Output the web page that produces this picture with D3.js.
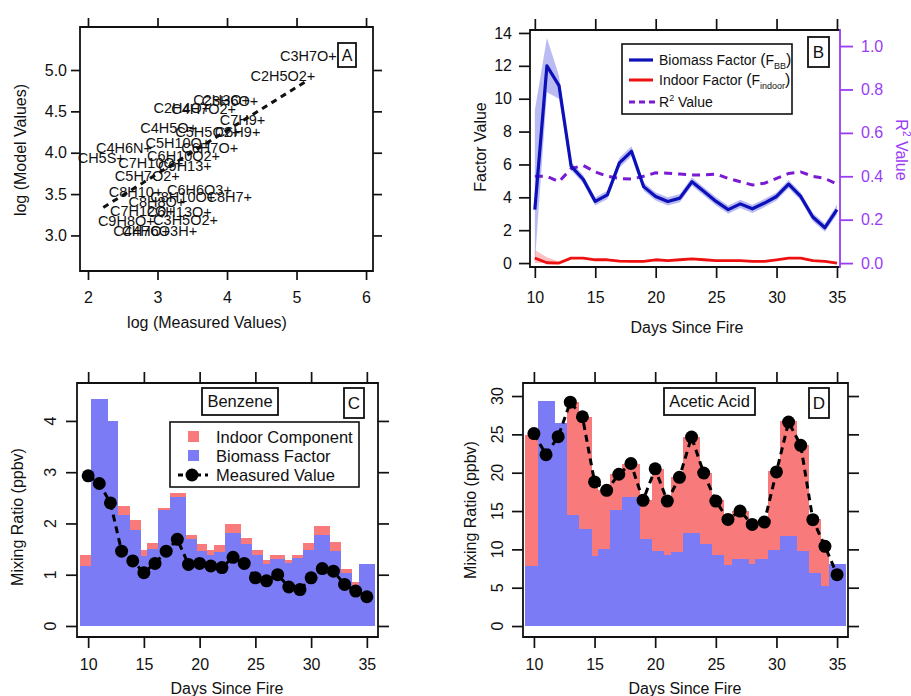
<!DOCTYPE html>
<html><head><meta charset="utf-8">
<script src="https://cdn.jsdelivr.net/npm/d3@7"></script>
<style>body{margin:0;background:#fff} svg{display:block}</style>
</head><body><svg id="c" width="911" height="696"></svg>
<script>
// ---------- Panel A data ----------
const labelsA = ["C3H7O+","C2H5O2+","C3H6O+","C2H3O+","C4H7O2+","C2H4O+","C7H9+","C4H5O+","C5H5O2+","C6H9+",
  "C6H7O+","C5H10O+","C4H6N+","CH5S+","C6H10O2+","C7H10O+","C9H13+","C5H7O2+","C8H10+","C6H6O3+",
  "C8H7+","C8H10O+","C8H8O+","C7H12O+","C6H13O+","C9H8O+","C3H5O2+","C4H7O+","C4H6O3H+"];
const measA = [5.58,5.27,4.45,4.33,4.13,3.76,4.55,3.57,4.19,4.48,
  4.16,3.76,2.92,2.53,3.90,3.37,3.78,3.32,3.07,4.07,
  4.36,3.83,3.40,3.25,3.78,2.96,3.87,3.18,3.57];
const modelA = [5.17,4.93,4.63,4.64,4.53,4.54,4.40,4.30,4.25,4.25,
  4.06,4.12,4.06,3.94,3.96,3.88,3.84,3.72,3.53,3.55,
  3.47,3.46,3.40,3.30,3.29,3.17,3.19,3.06,3.06];
const fitRangeA = [2.22, 5.15];
const fitSlopeA = 0.5225, fitInterceptA = 2.179;
const xTicksA = [2,3,4,5,6];
const yTicksA = [3.0,3.5,4.0,4.5,5.0];

// ---------- Panel B data ----------
const daysB = [10,11,12,13,14,15,16,17,18,19,20,21,22,23,24,25,26,27,28,29,30,31,32,33,34,35];
const fbb = [3.25,12.0,10.8,5.9,5.1,3.75,4.15,6.1,6.8,4.65,4.05,3.75,3.95,4.95,4.35,3.75,3.25,3.6,3.3,3.65,4.05,4.8,4.05,2.8,2.15,3.25];
const fbbLow = [0.0,10.4,10.0,5.65,4.85,3.5,3.9,5.8,6.5,4.4,3.8,3.5,3.7,4.7,4.1,3.5,3.0,3.35,3.05,3.4,3.8,4.55,3.8,2.55,1.9,2.95];
const fbbHigh = [9.3,13.7,11.4,6.15,5.35,4.0,4.4,6.4,7.1,4.9,4.3,4.0,4.2,5.2,4.6,4.0,3.5,3.85,3.55,3.9,4.3,5.05,4.3,3.05,2.4,3.55];
const findoor = [0.3,0.02,0.0,0.3,0.3,0.2,0.2,0.12,0.1,0.1,0.2,0.15,0.2,0.25,0.2,0.15,0.15,0.15,0.1,0.1,0.2,0.3,0.3,0.15,0.1,0.0];
const findoorLow = [0.0,0.0,0.0,0.25,0.25,0.15,0.15,0.07,0.05,0.05,0.15,0.1,0.15,0.2,0.15,0.1,0.1,0.1,0.05,0.05,0.15,0.25,0.25,0.1,0.05,0.0];
const findoorHigh = [0.8,0.35,0.1,0.35,0.35,0.25,0.25,0.17,0.15,0.15,0.25,0.2,0.25,0.3,0.25,0.2,0.2,0.2,0.15,0.15,0.25,0.35,0.35,0.2,0.15,0.05];
const r2 = [0.40,0.40,0.375,0.435,0.45,0.42,0.40,0.39,0.387,0.40,0.416,0.414,0.41,0.406,0.406,0.41,0.39,0.375,0.36,0.368,0.39,0.413,0.42,0.40,0.39,0.364];
const xTicksDays = [10,15,20,25,30,35];
const yTicksB = [0,2,4,6,8,10,12,14];
const y2TicksB = [0.0,0.2,0.4,0.6,0.8,1.0];

// ---------- Panels C & D data ----------
const binEdges = [9.3,10.3,11.75,12.7,13.75,14.75,15.3,16.3,17.3,18.75,19.75,20.7,21.3,22.3,23.7,24.7,25.7,26.3,27.7,28.25,29.3,30.3,31.7,32.7,33.7,34.3,35.72];
const daysMeas = [10,11,12,13,14,15,16,17,18,19,20,21,22,23,24,25,26,27,28,29,30,31,32,33,34,35];
const benzeneBiomass = [1.17,4.42,3.99,2.16,1.88,1.37,1.51,2.26,2.52,1.69,1.46,1.39,1.45,1.82,1.6,1.39,1.2,1.3,1.22,1.32,1.49,1.77,1.47,1.04,0.79,1.21];
const benzeneIndoor = [0.22,0,0,0.19,0.19,0.12,0.10,0.05,0.07,0.08,0.14,0.09,0.13,0.17,0.11,0.09,0.08,0.08,0.06,0.06,0.13,0.18,0.17,0.08,0.07,0];
const benzeneMeasured = [2.93,2.78,2.40,1.46,1.27,1.04,1.22,1.46,1.69,1.2,1.22,1.17,1.14,1.34,1.22,0.94,0.88,1.0,0.76,0.71,0.94,1.12,1.07,0.81,0.68,0.57];
const aceticBiomass = [7.78,29.4,26.5,14.5,12.6,9.13,10.1,15.1,16.8,11.3,9.74,9.3,9.65,12.2,10.65,9.3,8.0,8.7,8.13,8.8,9.96,11.8,9.78,6.9,5.17,8.04];
const aceticIndoor = [17.2,0,0,14.7,14.7,9.5,7.7,4.7,4.4,5.1,10.8,6.9,9.75,12.5,9.3,7.1,5.8,6.3,5.2,4.8,10.2,14.9,13.8,7.0,5.2,0];
const aceticMeasured = [25.1,22.35,24.7,29.2,27.3,18.8,17.7,19.8,21.2,16.4,20.5,16.3,19.4,24.65,19.96,16.3,13.9,15.0,13.26,13.56,20.1,26.6,23.57,13.87,10.4,6.7];
const yTicksC = [0,1,2,3,4];
const yTicksD = [0,5,10,15,20,25,30];

// ---------- drawing ----------
const FONT = '"Liberation Sans", Arial, Helvetica, sans-serif';
const svg = d3.select("#c");
svg.append("rect").attr("width",911).attr("height",696).attr("fill","#fff");
const BLUEBAR = "#7b7bf6", REDBAR = "#f87a7a";
const PURPLE = "#9a3cf5", PURPLE_LINE = "#7a1ad2";

function ticks4(g, x, y, cfg){
  const [x0,x1] = x.range(), [y0,y1] = y.range();
  const tl = cfg.tl;
  const b = g.append("g").attr("transform",`translate(0,${y0})`)
    .call(d3.axisBottom(x).tickValues(cfg.xt).tickSize(tl).tickPadding(cfg.xpad).tickFormat(cfg.xf));
  g.append("g").attr("transform",`translate(0,${y1})`)
    .call(d3.axisTop(x).tickValues(cfg.xt).tickSize(tl).tickFormat(""));
  g.append("g").attr("transform",`translate(${x0},0)`)
    .call(d3.axisLeft(y).tickValues(cfg.yt).tickSize(tl).tickPadding(cfg.ypad).tickFormat(cfg.rotX!=null ? "" : cfg.yf));
  if(!cfg.noRight){
    g.append("g").attr("transform",`translate(${x1},0)`)
      .call(d3.axisRight(y).tickValues(cfg.yt).tickSize(tl).tickFormat(""));
  }
  g.selectAll(".domain").remove();
  g.selectAll(".tick line").attr("stroke","#111").attr("stroke-width",1.7);
  g.selectAll(".tick text").attr("font-family",FONT).attr("font-size",16).attr("fill","#111");
  if(cfg.rotX!=null){
    g.selectAll(null).data(cfg.yt).enter().append("text")
      .attr("transform",d=>`translate(${cfg.rotX},${y(d)}) rotate(-90)`)
      .attr("text-anchor","middle").attr("dy","0.35em")
      .attr("font-family",FONT).attr("font-size",16).attr("fill","#111")
      .text(cfg.yf);
  }
}
function frame(g, x, y, rightColor){
  const [x0,x1] = x.range(), [y0,y1] = y.range();
  g.append("path").attr("d",`M${x1},${y1}H${x0}V${y0}H${x1}`).attr("fill","none").attr("stroke","#111").attr("stroke-width",1.8);
  g.append("line").attr("x1",x1).attr("x2",x1).attr("y1",y1-0.9).attr("y2",y0+0.9)
    .attr("stroke",rightColor||"#111").attr("stroke-width",1.8);
}
function label(g, txt, cx, cy, rot, size, color){
  g.append("text").attr("transform",`translate(${cx},${cy}) rotate(${rot||0})`)
    .attr("text-anchor","middle").attr("dy","0.35em")
    .attr("font-family",FONT).attr("font-size",size||16).attr("fill",color||"#111").text(txt);
}
function boxText(g, txt, x0, y0, x1, y1, size){
  g.append("rect").attr("x",x0).attr("y",y0).attr("width",x1-x0).attr("height",y1-y0)
    .attr("fill","#fff").attr("stroke","#111").attr("stroke-width",1.8);
  label(g, txt, (x0+x1)/2, (y0+y1)/2, 0, size||16);
}

// ===== Panel A =====
(function(){
  const g = svg.append("g");
  const x = d3.scaleLinear().domain([1.885,6.1]).range([80,373]);
  const y = d3.scaleLinear().domain([2.57,5.52]).range([271,27]);
  ticks4(g,x,y,{xt:xTicksA,yt:yTicksA,tl:9,xpad:12,ypad:4,xf:d3.format("d"),yf:d3.format(".1f")});
  g.selectAll(null).data(labelsA).enter().append("text")
    .attr("x",(d,i)=>x(measA[i])).attr("y",(d,i)=>y(modelA[i])).attr("dy","0.35em")
    .attr("text-anchor","end").attr("font-family",FONT).attr("font-size",14.5).attr("fill","#111")
    .text(d=>d);
  const fit = d3.line().x(d=>x(d)).y(d=>y(fitInterceptA+fitSlopeA*d));
  g.append("path").attr("d",fit(fitRangeA)).attr("fill","none").attr("stroke","#111")
    .attr("stroke-width",3).attr("stroke-dasharray","6,5");
  frame(g,x,y);
  boxText(g,"A",338,43,356,67,16);
  label(g,"log (Model Values)",20,150,-90,16);
  label(g,"log (Measured Values)",207,322,0,16);
})();

// ===== Panel B =====
(function(){
  const g = svg.append("g");
  const x = d3.scaleLinear().domain([9.6,35.25]).range([530,840]);
  const y = d3.scaleLinear().domain([-0.24,14.18]).range([267,30]);
  const y2 = d3.scaleLinear().domain([-0.018,1.074]).range([267,30]);
  ticks4(g,x,y,{xt:xTicksDays,yt:yTicksB,tl:11,xpad:14,ypad:7,xf:d3.format("d"),yf:d3.format("d"),noRight:true});
  const ra = g.append("g").attr("transform","translate(840,0)")
    .call(d3.axisRight(y2).tickValues(y2TicksB).tickSize(13).tickPadding(8).tickFormat(d3.format(".1f")));
  ra.select(".domain").remove();
  ra.selectAll(".tick line").attr("stroke",PURPLE).attr("stroke-width",1.8);
  ra.selectAll(".tick text").attr("font-family",FONT).attr("font-size",16).attr("fill",PURPLE);

  const band = (lo,hi)=>d3.area().x((d,i)=>x(daysB[i])).y0((d,i)=>y(lo[i])).y1((d,i)=>y(hi[i]));
  const line = v=>d3.line().x((d,i)=>x(daysB[i])).y((d,i)=>y(v[i]));
  g.append("path").attr("d",band(fbbLow,fbbHigh)(daysB)).attr("fill","rgba(105,105,230,0.45)");
  g.append("path").attr("d",band(findoorLow,findoorHigh)(daysB)).attr("fill","rgba(245,120,120,0.45)");
  g.append("path").attr("d",d3.line().x((d,i)=>x(daysB[i])).y((d,i)=>y2(r2[i]))(daysB))
    .attr("fill","none").attr("stroke",PURPLE_LINE).attr("stroke-width",3).attr("stroke-dasharray","8,6");
  g.append("path").attr("d",line(fbb)(daysB)).attr("fill","none").attr("stroke","#0c10b8").attr("stroke-width",3.2).attr("stroke-linejoin","round");
  g.append("path").attr("d",line(findoor)(daysB)).attr("fill","none").attr("stroke","#ee1111").attr("stroke-width",2.8).attr("stroke-linejoin","round");

  frame(g,x,y,PURPLE);
  // legend
  g.append("rect").attr("x",622).attr("y",44).attr("width",170).attr("height",70)
    .attr("fill","#fff").attr("stroke","#111").attr("stroke-width",1.6);
  const rows = [60,80,102];
  g.append("line").attr("x1",629).attr("x2",653).attr("y1",rows[0]).attr("y2",rows[0]).attr("stroke","#0c10b8").attr("stroke-width",3.2);
  g.append("line").attr("x1",629).attr("x2",653).attr("y1",rows[1]).attr("y2",rows[1]).attr("stroke","#ee1111").attr("stroke-width",3);
  g.append("line").attr("x1",629).attr("x2",655).attr("y1",rows[2]).attr("y2",rows[2]).attr("stroke",PURPLE_LINE).attr("stroke-width",3).attr("stroke-dasharray","6,4");
  const t1 = g.append("text").attr("x",659).attr("y",rows[0]).attr("dy","0.35em").attr("font-family",FONT).attr("font-size",14).attr("fill","#111");
  t1.append("tspan").text("Biomass Factor ");
  t1.append("tspan").attr("font-size",16).text("(");
  t1.append("tspan").text("F");
  t1.append("tspan").attr("font-size",9).attr("dy",4).text("BB");
  t1.append("tspan").attr("font-size",16).attr("dy",-4).text(")");
  const t2 = g.append("text").attr("x",659).attr("y",rows[1]).attr("dy","0.35em").attr("font-family",FONT).attr("font-size",14).attr("fill","#111");
  t2.append("tspan").text("Indoor Factor ");
  t2.append("tspan").attr("font-size",16).text("(");
  t2.append("tspan").text("F");
  t2.append("tspan").attr("font-size",9).attr("dy",4).text("indoor");
  t2.append("tspan").attr("font-size",16).attr("dy",-4).text(")");
  const t3 = g.append("text").attr("x",659).attr("y",rows[2]).attr("dy","0.35em").attr("font-family",FONT).attr("font-size",14).attr("fill","#111");
  t3.append("tspan").text("R");
  t3.append("tspan").attr("font-size",9).attr("dy",-6).text("2");
  t3.append("tspan").attr("dy",6).text(" Value");

  boxText(g,"B",808,37,829,67,17);
  label(g,"Factor Value",480,147,-90,16);
  label(g,"Days Since Fire",687,327,0,16);
  const r = g.append("text").attr("transform","translate(902,150) rotate(90)").attr("text-anchor","middle").attr("dy","0.35em")
    .attr("font-family",FONT).attr("font-size",16).attr("fill",PURPLE);
  r.append("tspan").text("R");
  r.append("tspan").attr("font-size",10).attr("dy",-7).text("2");
  r.append("tspan").attr("dy",7).text(" Value");
})();

// ===== Panels C & D =====
function stackPanel(cfg){
  const g = svg.append("g");
  const x = d3.scaleLinear().domain(cfg.xd).range(cfg.xr);
  const y = d3.scaleLinear().domain(cfg.yd).range([637,383]);
  const idx = cfg.bio.map((d,i)=>i);
  g.selectAll(null).data(idx).enter().append("rect")
    .attr("x",i=>x(binEdges[i])).attr("width",i=>x(binEdges[i+1])-x(binEdges[i]))
    .attr("y",i=>y(cfg.bio[i])).attr("height",i=>y(0)-y(cfg.bio[i]))
    .attr("fill",BLUEBAR).attr("shape-rendering","crispEdges");
  g.selectAll(null).data(idx.filter(i=>cfg.ind[i]>0)).enter().append("rect")
    .attr("x",i=>x(binEdges[i])).attr("width",i=>x(binEdges[i+1])-x(binEdges[i]))
    .attr("y",i=>y(cfg.bio[i]+cfg.ind[i])).attr("height",i=>y(cfg.bio[i])-y(cfg.bio[i]+cfg.ind[i]))
    .attr("fill",REDBAR).attr("shape-rendering","crispEdges");
  g.append("path").attr("d",d3.line().x((d,i)=>x(daysMeas[i])).y((d,i)=>y(cfg.meas[i]))(daysMeas))
    .attr("fill","none").attr("stroke","#000").attr("stroke-width",3).attr("stroke-dasharray","7,5");
  g.selectAll(null).data(cfg.meas).enter().append("circle")
    .attr("cx",(d,i)=>x(daysMeas[i])).attr("cy",d=>y(d)).attr("r",6.5).attr("fill","#000");
  ticks4(g,x,y,{xt:xTicksDays,yt:cfg.yt,tl:11,xpad:11,ypad:4,xf:d3.format("d"),yf:d3.format("d"),rotX:cfg.rotX});
  frame(g,x,y);
  boxText(g,cfg.name,cfg.nameBox[0],388,cfg.nameBox[1],415,16.5);
  boxText(g,cfg.letter,cfg.letterBox[0],388,cfg.letterBox[1],418,17);
  label(g,"Mixing Ratio (ppbv)",cfg.ylabX,cfg.ylabY,-90,16);
  label(g,"Days Since Fire",cfg.xlabX,688,0,16);
  return g;
}
const gC = stackPanel({xd:[9.0,36.0],xr:[77,378],yd:[-0.215,4.74],yt:yTicksC,rotX:50,
  bio:benzeneBiomass,ind:benzeneIndoor,meas:benzeneMeasured,name:"Benzene",nameBox:[202,278],
  letter:"C",letterBox:[344,364],ylabX:17,ylabY:517,xlabX:227});
stackPanel({xd:[9.1,35.9],xr:[523,848],yd:[-1.43,31.7],yt:yTicksD,rotX:497,
  bio:aceticBiomass,ind:aceticIndoor,meas:aceticMeasured,name:"Acetic Acid",nameBox:[664,755],
  letter:"D",letterBox:[809,829],ylabX:470,ylabY:510,xlabX:685});

// legend C
(function(){
  const g = gC;
  g.append("rect").attr("x",170).attr("y",422).attr("width",189).attr("height",65)
    .attr("fill","#fff").attr("stroke","#111").attr("stroke-width",1.6);
  g.append("rect").attr("x",188).attr("y",431).attr("width",11).attr("height",11).attr("fill",REDBAR);
  g.append("rect").attr("x",188).attr("y",450).attr("width",11).attr("height",11).attr("fill",BLUEBAR);
  g.append("line").attr("x1",178).attr("x2",208).attr("y1",475).attr("y2",475).attr("stroke","#000").attr("stroke-width",3).attr("stroke-dasharray","5,4");
  g.append("circle").attr("cx",192).attr("cy",475).attr("r",6.5).attr("fill","#000");
  const items = [["Indoor Component",437],["Biomass Factor",456],["Measured Value",475]];
  items.forEach(([t,yy])=>g.append("text").attr("x",216).attr("y",yy).attr("dy","0.35em")
    .attr("font-family",FONT).attr("font-size",16.5).attr("fill","#111").text(t));
})();
</script></body></html>
